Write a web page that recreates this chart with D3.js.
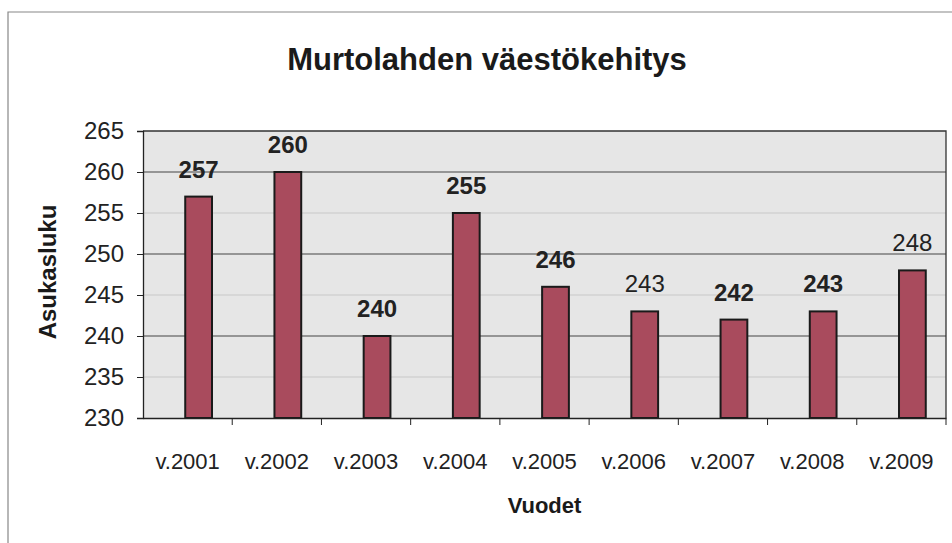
<!DOCTYPE html>
<html>
<head>
<meta charset="utf-8">
<script src="https://cdn.jsdelivr.net/npm/d3@7"></script>
<style>
  body { margin: 0; background: #fff; }
  svg { display: block; font-family: "Liberation Sans", Arial, sans-serif; }
</style>
</head>
<body>
<div id="chart-container"></div>
<script>
const years = ["v.2001", "v.2002", "v.2003", "v.2004", "v.2005", "v.2006", "v.2007", "v.2008", "v.2009"];
const population = [257, 260, 240, 255, 246, 243, 242, 243, 248];
const yTicks = [230, 235, 240, 245, 250, 255, 260, 265];

const w = 952;
const h = 543;
const margin = { left: 143, right: 6, top: 131, bottom: 125 };

const svg = d3.select('#chart-container')
    .append('svg')
    .attr('width', w)
    .attr('height', h);

// outer frame (only left + top visible in the scan)
svg.append('path')
    .attr('d', `M8,${h} L8,12 L${w},12`)
    .attr('fill', 'none')
    .attr('stroke', '#888')
    .attr('stroke-width', 1.2);

const xScale = d3.scaleBand()
    .domain(years)
    .range([margin.left, w - margin.right])
    .paddingInner(0.7)
    .paddingOuter(0.35);

const yScale = d3.scaleLinear()
    .domain([230, 265])
    .range([h - margin.bottom, margin.top]);

// plot area background
svg.append('rect')
    .attr('x', margin.left)
    .attr('y', margin.top)
    .attr('width', w - margin.right - margin.left)
    .attr('height', h - margin.bottom - margin.top)
    .attr('fill', '#e6e6e6');

// gridlines
svg.append('g')
    .selectAll('line')
    .data(yTicks.slice(1, -1))
    .enter()
    .append('line')
    .attr('x1', margin.left)
    .attr('x2', w - margin.right)
    .attr('y1', d => yScale(d))
    .attr('y2', d => yScale(d))
    .attr('stroke', d => d % 10 === 0 ? '#444' : '#c8c8c8')
    .attr('stroke-width', d => d % 10 === 0 ? 1.2 : 1);

// top + right border of plot
svg.append('path')
    .attr('d', `M${margin.left},${margin.top} L${w - margin.right},${margin.top} L${w - margin.right},${h - margin.bottom}`)
    .attr('fill', 'none')
    .attr('stroke', '#333')
    .attr('stroke-width', 1.3);

const barShift = 11;

svg.selectAll('rect.bar')
    .data(population)
    .enter()
    .append('rect')
    .attr('class', 'bar')
    .attr('x', (d, i) => xScale(years[i]) + barShift)
    .attr('y', d => yScale(d))
    .attr('width', xScale.bandwidth())
    .attr('height', d => h - margin.bottom - yScale(d))
    .attr('fill', '#a94b5d')
    .attr('stroke', '#1a1a1a')
    .attr('stroke-width', 2);

svg.selectAll('text.val')
    .data(population)
    .enter()
    .append('text')
    .attr('class', 'val')
    .attr('x', (d, i) => xScale(years[i]) + barShift + xScale.bandwidth() / 2)
    .attr('y', d => yScale(d) - 19)
    .attr('text-anchor', 'middle')
    .attr('font-size', 24)
    .attr('font-weight', (d, i) => (i === 5 || i === 8) ? 'normal' : 'bold')
    .attr('fill', '#222')
    .text(d => d);

const xAxis = d3.axisBottom(xScale).tickSize(0).tickPadding(0);
const yAxis = d3.axisLeft(yScale).tickValues(yTicks).tickSize(6).tickPadding(13);

const gx = svg.append('g')
    .attr('id', 'x-axis')
    .attr('transform', 'translate(0,' + (h - margin.bottom) + ')')
    .call(xAxis);
gx.select('.domain').attr('stroke', '#222').attr('stroke-width', 1.3);
gx.selectAll('text')
    .attr('font-size', 22)
    .attr('fill', '#222')
    .attr('dy', 0)
    .attr('y', 51);

// category separator ticks
gx.selectAll('line.sep')
    .data(years)
    .enter()
    .append('line')
    .attr('class', 'sep')
    .attr('x1', d => xScale(d) + xScale.bandwidth() / 2 + xScale.step() / 2)
    .attr('x2', d => xScale(d) + xScale.bandwidth() / 2 + xScale.step() / 2)
    .attr('y1', 0)
    .attr('y2', 7)
    .attr('stroke', '#222');

const gy = svg.append('g')
    .attr('id', 'y-axis')
    .attr('transform', 'translate(' + margin.left + ',0)')
    .call(yAxis);
gy.select('.domain').attr('stroke', '#222').attr('stroke-width', 1.3);
gy.selectAll('.tick line').attr('stroke', '#222');
gy.selectAll('text')
    .attr('font-size', 24)
    .attr('fill', '#222');

svg.append('text')
    .attr('x', 487)
    .attr('y', 70)
    .attr('text-anchor', 'middle')
    .attr('font-size', 31)
    .attr('font-weight', 'bold')
    .attr('fill', '#1a1a1a')
    .text('Murtolahden väestökehitys');

svg.append('text')
    .attr('transform', 'translate(56,272) rotate(-90)')
    .attr('text-anchor', 'middle')
    .attr('font-size', 24)
    .attr('font-weight', 'bold')
    .attr('fill', '#1a1a1a')
    .text('Asukasluku');

svg.append('text')
    .attr('x', (margin.left + w - margin.right) / 2)
    .attr('y', 513)
    .attr('text-anchor', 'middle')
    .attr('font-size', 22)
    .attr('font-weight', 'bold')
    .attr('fill', '#1a1a1a')
    .text('Vuodet');
</script>
</body>
</html>
